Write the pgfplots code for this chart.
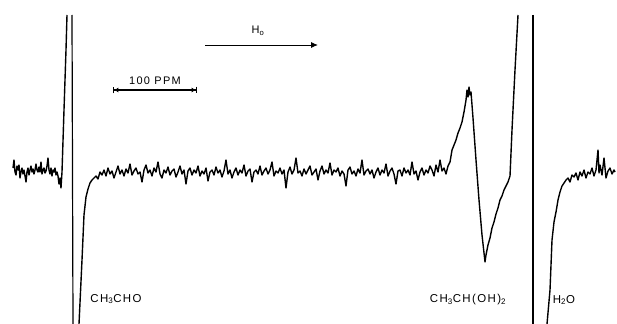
\documentclass[border=0pt]{standalone}
\usepackage{pgfplots}
\pgfplotsset{compat=1.18}
\usetikzlibrary{arrows.meta}
\usepackage{fontspec}
\setmainfont{Liberation Sans}
\newfontfamily\lab[LetterSpace=12]{Liberation Sans}
\begin{document}
\begin{tikzpicture}
\begin{axis}[name=ax, hide axis, scale only axis, width=617bp, height=324bp,
  xmin=0, xmax=617, ymin=0, ymax=324, y dir=reverse, clip=false,
  spec/.style={black, line width=1.4pt, line join=round, no markers}]
% left baseline and rise
\addplot[spec] coordinates {(13,168)(14,160)(15,172)(16,175)(17,166)(18,170)(19,165)(20,178)(21,172)(22,168)(23,174)(24,170)(25,176)(26,182)(27,172)(28,168)(29,175)(30,170)(31,166)(32,172)(33,169)(34,174)(35,170)(36,164)(37,170)(38,172)(39,167)(40,172)(41,162)(42,174)(43,170)(44,168)(45,173)(46,171)(47,166)(48,158)(49,170)(50,174)(51,168)(52,176)(53,170)(54,172)(55,168)(56,175)(57,172)(58,176)(59,184)(60,178)(61,188)(62,172)(64,110)(66,50)(67,15)};
% vertical line CH3CHO
\addplot[spec, line width=1.2pt] coordinates {(72,15)(73,324)};
% CH3CHO rise and middle baseline and CH3CH(OH)2
\addplot[spec] coordinates {(79,324)(82,260)(84,215)(86,197)(88,189)(90,183)(92,180)(94,178)(96,176)(98,179)(100,172)(102,175)(104,170)(106,176)(108,168)(110,174)(112,171)(114,178)(116,172)(118,166)(120,174)(122,170)(124,176)(126,169)(128,173)(130,164)(132,175)(134,171)(136,168)(138,174)(140,172)(142,182)(144,170)(146,165)(148,173)(150,170)(152,176)(154,168)(156,172)(158,162)(160,174)(162,178)(164,170)(166,173)(168,167)(170,175)(172,171)(174,169)(176,177)(178,172)(180,166)(182,174)(184,170)(186,184)(188,171)(190,168)(192,175)(194,170)(196,173)(198,166)(200,176)(202,171)(204,174)(206,168)(208,181)(210,172)(212,170)(214,175)(216,167)(218,173)(220,170)(222,177)(224,171)(226,160)(228,174)(230,170)(232,178)(234,172)(236,168)(238,175)(240,170)(242,173)(244,165)(246,176)(248,171)(250,169)(252,182)(254,172)(256,170)(258,174)(260,166)(262,175)(264,171)(266,168)(268,174)(270,170)(272,162)(274,176)(276,171)(278,173)(280,168)(282,174)(284,170)(286,188)(288,172)(290,167)(292,174)(294,170)(296,158)(298,173)(300,171)(302,176)(304,169)(306,174)(308,170)(310,166)(312,175)(314,172)(316,169)(318,180)(320,171)(322,166)(324,174)(326,170)(328,173)(330,163)(332,175)(334,170)(336,172)(338,168)(340,176)(342,171)(344,174)(346,186)(348,170)(350,167)(352,174)(354,171)(356,176)(358,169)(360,173)(362,160)(364,175)(366,171)(368,169)(370,174)(372,170)(374,178)(376,172)(378,168)(380,175)(382,170)(384,173)(386,164)(388,176)(390,171)(392,168)(394,174)(396,184)(398,171)(400,170)(402,176)(404,168)(406,173)(408,170)(410,175)(412,162)(414,174)(416,171)(418,180)(420,172)(422,168)(424,175)(426,170)(428,173)(430,166)(432,170)(434,176)(436,165)(438,172)(440,160)(442,171)(444,168)(446,174)(448,166)(450,162)(452,150)(454,145)(456,140)(458,133)(460,128)(462,122)(464,112)(466,100)(467,90)(468,97)(469,87)(470,95)(471,92)(473,118)(476,160)(479,200)(482,235)(485,262)(486,255)(488,245)(490,238)(492,228)(494,222)(496,214)(498,208)(500,200)(502,196)(504,190)(506,186)(508,182)(510,176)(512,130)(515,70)(518,15)};
% vertical line H2O
\addplot[spec, line width=1.6pt] coordinates {(533,15)(533,324)};
% H2O rise and right baseline
\addplot[spec] coordinates {(547,324)(550,290)(552,240)(554,222)(556,212)(558,200)(560,192)(562,186)(564,183)(566,180)(568,178)(570,182)(572,175)(574,177)(576,173)(578,180)(580,172)(582,176)(584,170)(586,178)(588,172)(590,174)(592,168)(594,176)(596,170)(598,150)(599,173)(600,165)(602,175)(604,158)(606,178)(608,171)(610,168)(612,174)(614,170)(615,172)};
% annotations
\draw[line width=0.9pt, -{Latex[length=7pt,width=6pt]}] (axis cs:205,45) -- (axis cs:318,45);
\node[font=\lab\fontsize{11}{13}\selectfont] at (axis cs:258,31) {H\textsubscript{o}};
\draw[line width=1.3pt, {Bar[width=7pt]Latex[length=4pt,width=5pt]}-{Latex[length=4pt,width=5pt]Bar[width=7pt]}] (axis cs:113,90) -- (axis cs:197,90);
\node[font=\lab\fontsize{11}{13}\selectfont] at (axis cs:155,81) {100 PPM};
\node[font=\lab\fontsize{11.5}{13}\selectfont] at (axis cs:116,299) {CH\textsubscript{3}CHO};
\node[font=\lab\fontsize{11.5}{13}\selectfont] at (axis cs:468,300) {CH\textsubscript{3}CH(OH)\textsubscript{2}};
\node[font=\lab\fontsize{11.5}{13}\selectfont] at (axis cs:564,300) {H\textsubscript{2}O};
\end{axis}
\pgfresetboundingbox
\useasboundingbox (ax.south west) rectangle (ax.north east);
\end{tikzpicture}
\end{document}
